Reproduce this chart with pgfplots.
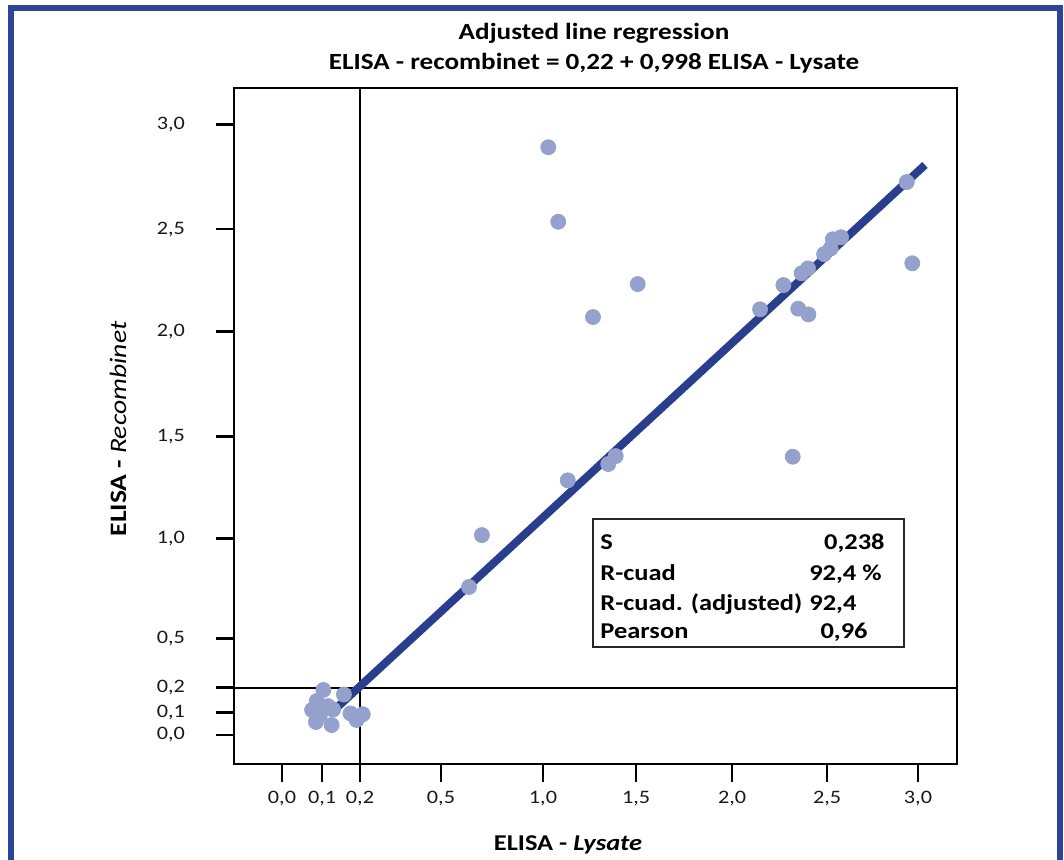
\documentclass[border=0pt]{standalone}
\usepackage{pgfplots}
\pgfplotsset{compat=1.18}
\usepackage{fontspec}
\setmainfont{Carlito}[FakeStretch=1.17]
\definecolor{fitblue}{RGB}{42,62,142}
\definecolor{ptblue}{RGB}{148,161,204}
\definecolor{framecol}{RGB}{46,68,152}

% points: x and y in axis units
\pgfplotstableread{
x y
1.256 2.887
1.303 2.521
1.678 2.215
1.467 2.053
1.574 1.370
1.539 1.331
1.348 1.251
0.943 0.982
0.882 0.727
2.947 2.716
2.973 2.317
2.637 2.445
2.598 2.435
2.588 2.390
2.557 2.362
2.481 2.292
2.451 2.268
2.365 2.210
2.255 2.091
2.435 2.094
2.483 2.066
2.409 1.367
0.195 0.221
0.164 0.167
0.142 0.123
0.217 0.142
0.241 0.125
0.160 0.064
0.234 0.049
0.292 0.199
0.323 0.106
0.352 0.074
0.381 0.102
0.179 0.098
}\pts

\begin{document}
\begin{tikzpicture}
\useasboundingbox (0,0) rectangle (532pt,-430pt);
\draw[framecol, line width=3pt] (5.5pt,-4pt) rectangle (530pt,-460pt);

\node[anchor=base, font=\fontsize{11.6}{14}\selectfont\bfseries] at (297pt,-20pt) {Adjusted line regression};
\node[anchor=base, font=\fontsize{11.6}{14}\selectfont\bfseries] at (297pt,-34.7pt) {ELISA - recombinet = 0,22 + 0,998 ELISA - Lysate};

\begin{axis}[
    at={(117pt,-382pt)}, anchor=south west,
    scale only axis, width=361.5pt, height=338pt,
    xmin=-0.2264, xmax=3.184, ymin=-0.1424, ymax=3.178,
    axis line style={line width=1.4pt},
    xtick={0,0.189,0.368,0.750,1.231,1.670,2.123,2.571,3.0},
    xticklabels={{0,0},{0,1},{0,2},{0,5},{1,0},{1,5},{2,0},{2,5},{3,0}},
    ytick={0,0.110,0.232,0.475,0.966,1.465,1.981,2.485,3.0},
    yticklabels={{0,0},{0,1},{0,2},{0,5},{1,0},{1,5},{2,0},{2,5},{3,0}},
    tick align=outside, xtick pos=bottom, ytick pos=left,
    major tick length=9pt,
    tick style={line width=1.4pt, black},
    ticklabel style={font=\fontsize{9.5}{11}\selectfont, text=black!90},
    xticklabel style={yshift=-1pt},
    yticklabel style={xshift=-12pt},
]
\draw[black, line width=0.7pt] ({axis cs:0.368,0}|-{rel axis cs:0,0}) -- ({axis cs:0.368,0}|-{rel axis cs:0,1});
\draw[black, line width=0.7pt] ({rel axis cs:0,0}|-{axis cs:0,0.231}) -- ({rel axis cs:1,0}|-{axis cs:0,0.231});
\addplot[fitblue, line width=4pt] coordinates {(0.226,0.103) (3.033,2.800)};
\addplot[only marks, mark=*, mark size=3.75pt, ptblue, mark options={draw=none, fill=ptblue}] table {\pts};
\end{axis}

\draw[black!85, line width=1pt] (296.5pt,-259.5pt) rectangle (452pt,-323.5pt);
\begin{scope}[font=\fontsize{11.3}{13}\selectfont\bfseries]
\node[anchor=base west, inner sep=0pt] at (300pt,-274.6pt) {S};
\node[anchor=base east, inner sep=0pt] at (442.5pt,-274.6pt) {0,238};
\node[anchor=base west, inner sep=0pt] at (300pt,-290pt) {R-cuad};
\node[anchor=base east, inner sep=0pt] at (441pt,-290pt) {92,4 \%};
\node[anchor=base west, inner sep=0pt] at (300pt,-305.3pt) {R-cuad. (adjusted)};
\node[anchor=base west, inner sep=0pt] at (404.5pt,-305.3pt) {92,4};
\node[anchor=base west, inner sep=0pt] at (300pt,-319.1pt) {Pearson};
\node[anchor=base east, inner sep=0pt] at (434pt,-319.1pt) {0,96};
\end{scope}

\node[anchor=base, font=\fontsize{11.3}{13}\selectfont] at (284pt,-425pt) {\textbf{ELISA - \textit{Lysate}}};
\node[rotate=90, font=\fontsize{11.8}{13}\selectfont] at (59pt,-214.5pt) {\textbf{ELISA -} \textit{Recombinet}};
\end{tikzpicture}
\end{document}
